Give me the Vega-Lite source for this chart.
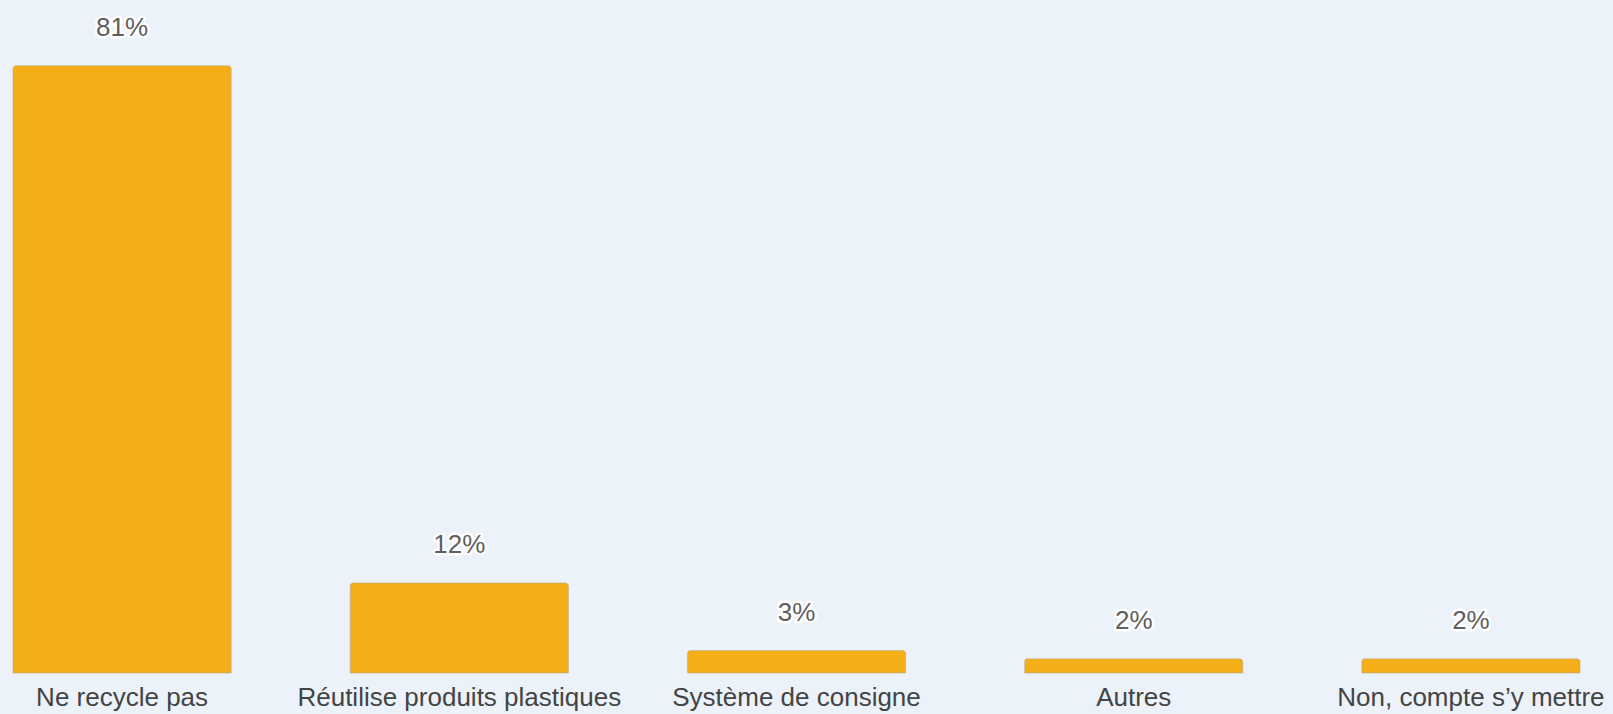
{
  "$schema": "https://vega.github.io/schema/vega-lite/v6.json",
  "autosize": {"type": "none"},
  "padding": {"left": 13, "top": 0, "right": 33, "bottom": 41},
  "width": 1567,
  "height": 673,
  "background": "#ebf2f9",
  "config": {"view": {"stroke": null}, "font": "Liberation Sans"},
  "data": {"values": [
    {"cat": "Ne recycle pas", "v": 81, "lab": "81%"},
    {"cat": "Réutilise produits plastiques", "v": 12, "lab": "12%"},
    {"cat": "Système de consigne", "v": 3, "lab": "3%"},
    {"cat": "Autres", "v": 1.9, "lab": "2%"},
    {"cat": "Non, compte s’y mettre", "v": 1.9, "lab": "2%"}
  ]},
  "encoding": {
    "x": {"field": "cat", "type": "nominal", "sort": null,
      "scale": {"paddingInner": 0.353, "paddingOuter": 0},
      "axis": {"title": null, "labelAngle": 0, "ticks": false, "domain": false, "labelFontSize": 26, "labelColor": "#444444", "labelPadding": 11, "labelFont": "Liberation Sans", "labelLimit": 0}},
    "y": {"field": "v", "type": "quantitative", "scale": {"domain": [0, 89.76], "nice": false}, "axis": null}
  },
  "layer": [
    {"mark": {"type": "bar", "color": "#f3ae18", "cornerRadiusTopLeft": 3, "cornerRadiusTopRight": 3, "stroke": "#c9a66a", "strokeWidth": 0.6}},
    {"mark": {"type": "text", "dy": -30, "baseline": "alphabetic", "fontSize": 26, "stroke": "#ffffff", "strokeWidth": 5, "strokeJoin": "round", "fill": "#ffffff"}, "encoding": {"text": {"field": "lab"}}},
    {"mark": {"type": "text", "dy": -30, "baseline": "alphabetic", "fontSize": 26, "fill": "#5f5f5f"}, "encoding": {"text": {"field": "lab"}}}
  ]
}
